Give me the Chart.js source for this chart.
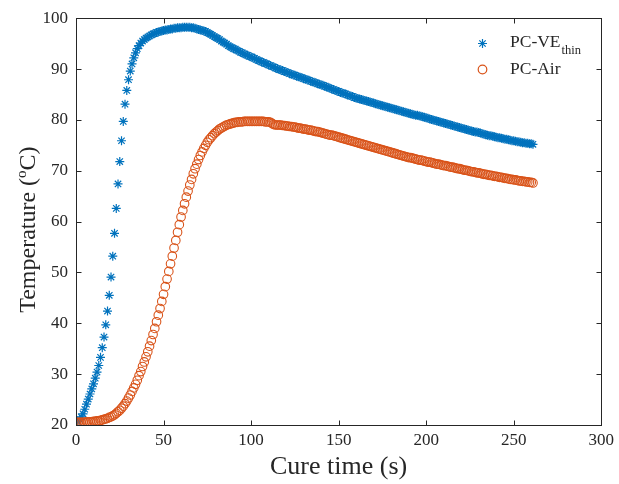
<!DOCTYPE html>
<html><head><meta charset="utf-8">
<script src="https://cdn.jsdelivr.net/npm/chart.js@4.4.1/dist/chart.umd.min.js"></script>
<style>html,body{margin:0;padding:0;background:#fff;}#wrap{width:619px;height:484px;}</style>
</head><body><div id="wrap"><canvas id="c" width="619" height="484"></canvas></div>
<script>
// ---- data (sampled every second, 0..261 s) ----
const sampleInterval = 1; // s
const xTickValues = [0, 50, 100, 150, 200, 250, 300];
const yTickValues = [20, 30, 40, 50, 60, 70, 80, 90, 100];
const seriesNames = ['PC-VE', 'PC-Air'];
const veThinTemps = [
20.4,20.7,21.1,21.6,22.2,23.1,24.1,25.1,26.1,27.1,28.1,
29.2,30.4,31.7,33.3,35.2,37.3,39.7,42.4,45.5,49.1,
53.2,57.7,62.6,67.4,71.8,75.9,79.7,83.1,85.8,87.9,
89.6,91.0,92.2,93.2,94.0,94.6,95.1,95.5,95.8,96.1,
96.3,96.5,96.7,96.9,97.0,97.2,97.3,97.4,97.5,97.6,
97.7,97.7,97.8,97.9,97.9,98.0,98.0,98.1,98.1,98.1,
98.2,98.2,98.2,98.2,98.2,98.1,98.1,98.0,97.9,97.8,
97.7,97.6,97.5,97.4,97.2,97.0,96.8,96.6,96.4,96.2,
96.0,95.8,95.5,95.3,95.1,94.9,94.6,94.4,94.2,94.0,
93.9,93.7,93.5,93.3,93.2,93.0,92.8,92.7,92.5,92.4,
92.2,92.1,91.9,91.7,91.6,91.4,91.3,91.1,91.0,90.8,
90.7,90.5,90.4,90.2,90.1,89.9,89.8,89.7,89.5,89.4,
89.3,89.1,89.0,88.9,88.8,88.6,88.5,88.4,88.3,88.1,
88.0,87.9,87.8,87.6,87.5,87.4,87.3,87.1,87.0,86.9,
86.8,86.6,86.5,86.4,86.2,86.1,86.0,85.8,85.7,85.6,
85.4,85.3,85.2,85.1,84.9,84.8,84.7,84.6,84.4,84.3,
84.2,84.1,84.0,83.9,83.8,83.7,83.6,83.5,83.4,83.3,
83.2,83.1,83.0,82.9,82.8,82.7,82.6,82.5,82.4,82.3,
82.2,82.1,82.0,81.9,81.8,81.7,81.6,81.5,81.4,81.3,
81.2,81.1,81.0,80.9,80.9,80.8,80.7,80.6,80.5,80.4,
80.3,80.2,80.1,80.0,79.9,79.8,79.7,79.6,79.5,79.4,
79.3,79.2,79.1,79.0,78.9,78.8,78.7,78.6,78.5,78.4,
78.3,78.2,78.1,78.0,77.9,77.8,77.7,77.6,77.6,77.5,
77.4,77.3,77.2,77.1,77.0,76.9,76.9,76.8,76.7,76.6,
76.5,76.5,76.4,76.3,76.2,76.2,76.1,76.0,75.9,75.9,
75.8,75.7,75.7,75.6,75.5,75.5,75.4,75.4,75.3,75.3,75.2
];
const airTemps = [
20.5,20.5,20.5,20.5,20.5,20.5,20.6,20.6,20.6,20.6,20.7,
20.7,20.8,20.8,20.9,21.0,21.1,21.2,21.3,21.5,21.6,
21.8,22.0,22.3,22.6,22.9,23.3,23.7,24.2,24.7,25.3,
25.9,26.6,27.3,28.0,28.8,29.7,30.5,31.5,32.4,33.4,
34.4,35.5,36.6,37.8,39.0,40.3,41.6,42.9,44.3,45.7,
47.2,48.7,50.2,51.7,53.2,54.8,56.3,57.9,59.4,60.9,
62.2,63.5,64.8,66.0,67.2,68.3,69.4,70.4,71.3,72.2,
73.0,73.7,74.4,75.0,75.6,76.1,76.5,76.9,77.3,77.6,
77.9,78.2,78.4,78.6,78.8,79.0,79.1,79.2,79.3,79.4,
79.5,79.5,79.6,79.6,79.6,79.7,79.7,79.7,79.7,79.7,
79.7,79.7,79.7,79.7,79.7,79.7,79.7,79.6,79.6,79.6,
79.5,79.3,79.1,79.0,79.0,79.0,79.0,78.9,78.9,78.8,
78.8,78.7,78.7,78.6,78.6,78.5,78.4,78.4,78.3,78.2,
78.2,78.1,78.0,78.0,77.9,77.8,77.7,77.7,77.6,77.5,
77.4,77.3,77.2,77.1,77.0,77.0,76.9,76.8,76.7,76.6,
76.5,76.4,76.3,76.2,76.1,76.0,75.9,75.8,75.7,75.6,
75.5,75.4,75.3,75.2,75.1,75.0,74.9,74.8,74.7,74.6,
74.5,74.4,74.3,74.2,74.1,74.0,73.9,73.8,73.7,73.6,
73.5,73.4,73.3,73.2,73.1,73.0,72.9,72.8,72.7,72.6,
72.6,72.5,72.4,72.3,72.2,72.1,72.1,72.0,71.9,71.8,
71.7,71.7,71.6,71.5,71.4,71.3,71.3,71.2,71.1,71.0,
71.0,70.9,70.8,70.7,70.7,70.6,70.5,70.4,70.4,70.3,
70.2,70.1,70.1,70.0,69.9,69.8,69.8,69.7,69.6,69.6,
69.5,69.4,69.3,69.3,69.2,69.1,69.1,69.0,68.9,68.9,
68.8,68.7,68.7,68.6,68.5,68.5,68.4,68.3,68.3,68.2,
68.2,68.1,68.0,68.0,67.9,67.9,67.8,67.8,67.7,67.7,67.6
];

const BLUE = '#0072BD', ORANGE = '#D95319', INK = '#262626';
const FONT = "'Liberation Serif', 'Times New Roman', serif";
const toPoints = arr => arr.map((v, i) => ({ x: i * sampleInterval, y: v }));

function drawStar(ctx, x, y, r) {
  ctx.beginPath();
  for (let k = 0; k < 4; k++) {
    const a = k * Math.PI / 4;
    ctx.moveTo(x - r * Math.cos(a), y - r * Math.sin(a));
    ctx.lineTo(x + r * Math.cos(a), y + r * Math.sin(a));
  }
  ctx.stroke();
}

const decor = {
  id: 'decor',
  afterDatasetsDraw(chart) {
    const { ctx, chartArea: a, scales: { x, y } } = chart;
    ctx.save();
    ctx.strokeStyle = INK; ctx.lineWidth = 1;
    const L = Math.round(a.left) + 0.5, R = Math.round(a.right) + 0.5;
    const T = Math.round(a.top) + 0.5, B = Math.round(a.bottom) + 0.5;
    ctx.strokeRect(L, T, R - L, B - T);
    const tl = 5;
    ctx.beginPath();
    xTickValues.forEach(v => {
      const p = Math.round(x.getPixelForValue(v)) + 0.5;
      ctx.moveTo(p, B); ctx.lineTo(p, B - tl);
      ctx.moveTo(p, T); ctx.lineTo(p, T + tl);
    });
    yTickValues.forEach(v => {
      const p = Math.round(y.getPixelForValue(v)) + 0.5;
      ctx.moveTo(L, p); ctx.lineTo(L + tl, p);
      ctx.moveTo(R, p); ctx.lineTo(R - tl, p);
    });
    ctx.stroke();
    ctx.restore();
  },
  afterDraw(chart) {
    const { ctx, chartArea: a } = chart;
    ctx.save();
    // y-axis title with superscript o
    ctx.fillStyle = INK;
    const cy = (a.top + a.bottom) / 2 + 8;
    ctx.translate(35, cy);
    ctx.rotate(-Math.PI / 2);
    ctx.textBaseline = 'alphabetic';
    ctx.textAlign = 'left';
    const big = '24px ' + FONT, small = '15px ' + FONT;
    const p1 = 'Temperature (', p2 = 'o', p3 = 'C)';
    ctx.font = big; const w1 = ctx.measureText(p1).width, w3 = ctx.measureText(p3).width;
    ctx.font = small; const w2 = ctx.measureText(p2).width;
    let sx = -(w1 + w2 + w3) / 2;
    ctx.font = big; ctx.fillText(p1, sx, 0); sx += w1;
    ctx.font = small; ctx.fillText(p2, sx, -9); sx += w2;
    ctx.font = big; ctx.fillText(p3, sx, 0);
    ctx.restore();

    // legend
    ctx.save();
    ctx.lineWidth = 1.2;
    ctx.strokeStyle = BLUE;
    drawStar(ctx, 482.5, 43.5, 4.5);
    ctx.strokeStyle = ORANGE;
    ctx.beginPath(); ctx.arc(482.5, 69.5, 4.3, 0, Math.PI * 2); ctx.stroke();
    ctx.fillStyle = INK;
    ctx.textBaseline = 'alphabetic'; ctx.textAlign = 'left';
    ctx.font = '17.5px ' + FONT;
    ctx.fillText(seriesNames[0], 510, 47);
    const wv = ctx.measureText(seriesNames[0]).width;
    ctx.font = '12.5px ' + FONT;
    ctx.fillText('thin', 510 + wv + 1, 54);
    ctx.font = '17.5px ' + FONT;
    ctx.fillText(seriesNames[1], 510, 74);
    ctx.restore();
  }
};

new Chart(document.getElementById('c'), {
  type: 'scatter',
  data: {
    datasets: [
      { label: 'PC-VEthin', data: toPoints(veThinTemps), order: 1,
        pointStyle: 'star', pointRadius: 4.5, borderWidth: 1.2, borderColor: BLUE, backgroundColor: BLUE, showLine: false },
      { label: 'PC-Air', data: toPoints(airTemps), order: 0,
        pointStyle: 'circle', pointRadius: 4.3, borderWidth: 1.1, borderColor: ORANGE, backgroundColor: 'rgba(0,0,0,0)', showLine: false }
    ]
  },
  options: {
    responsive: false, animation: false, devicePixelRatio: 1, events: [],
    layout: { padding: { top: 13, right: 16, left: 0, bottom: 0 } },
    plugins: { legend: { display: false }, tooltip: { enabled: false } },
    scales: {
      x: {
        type: 'linear', min: 0, max: 300,
        afterBuildTicks: s => { s.ticks = xTickValues.map(v => ({ value: v })); },
        afterFit: s => { s.height = 59; },
        grid: { display: false, drawTicks: false, tickLength: 0 }, border: { display: false },
        ticks: { color: INK, font: { family: FONT, size: 17 }, padding: 5, maxRotation: 0 },
        title: { display: true, text: 'Cure time (s)', color: INK, font: { family: FONT, size: 26 }, padding: { top: 0, bottom: 1 } }
      },
      y: {
        type: 'linear', min: 20, max: 100,
        afterBuildTicks: s => { s.ticks = yTickValues.map(v => ({ value: v })); },
        afterFit: s => { s.width = 76; },
        grid: { display: false, drawTicks: false, tickLength: 0 }, border: { display: false },
        ticks: { color: INK, font: { family: FONT, size: 17 }, padding: 8 }
      }
    }
  },
  plugins: [decor]
});
</script>
</body></html>
